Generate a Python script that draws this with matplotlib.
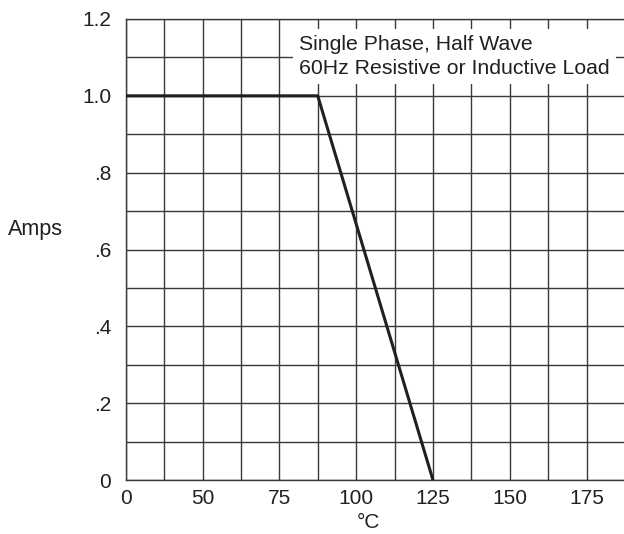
import numpy as np
import matplotlib.pyplot as plt

plt.rcParams['font.family'] = ['Liberation Sans', 'DejaVu Sans']

# derating curve
temp_c = [0, 87.5, 125]
amps = [1.0, 1.0, 0.0]

x_ticks = [0, 50, 75, 100, 125, 150, 175]
x_minor = [25, 62.5, 87.5, 112.5, 137.5, 162.5, 187.5]
y_ticks = [0, 0.2, 0.4, 0.6, 0.8, 1.0, 1.2]
y_labels = ['0', '.2', '.4', '.6', '.8', '1.0', '1.2']
note = 'Single Phase, Half Wave\n60Hz Resistive or Inductive Load'


# x axis is compressed between 0 and 50 (0 sits where 25 would be)
def fwd(t):
    t = np.asarray(t, dtype=float)
    return np.where(t < 50, 25 + t / 2, t)


def inv(p):
    p = np.asarray(p, dtype=float)
    return np.where(p < 50, (p - 25) * 2, p)


fig = plt.figure(figsize=(6.24, 5.34), dpi=100)
W, H = 624, 534
ax = fig.add_axes([125.7 / W, (H - 480) / H, (625 - 125.7) / W, 461 / H])
ax.set_xscale('function', functions=(fwd, inv))
ax.set_xlim(0, 187.5)
ax.set_ylim(0, 1.2)

gc = '#3a3a3a'
tc = '#231f20'
ax.set_xticks(x_ticks)
ax.set_xticklabels([str(v) for v in x_ticks])
ax.set_xticks(x_minor, minor=True)
ax.set_yticks(y_ticks)
ax.set_yticklabels(y_labels)
ax.set_yticks(np.arange(0.1, 1.2, 0.2), minor=True)
ax.grid(which='both', color=gc, linewidth=1.0)
ax.tick_params(which='both', length=0, labelsize=15, colors=tc)
ax.tick_params(axis='x', pad=6.5)
ax.tick_params(axis='y', pad=10.5)
ax.set_axisbelow(True)

ax.spines['right'].set_visible(False)
for s in ['left', 'bottom', 'top']:
    ax.spines[s].set_color(gc)
    ax.spines[s].set_linewidth(1.0)

ax.plot(temp_c, amps, color=tc, linewidth=2.2, solid_capstyle='butt', zorder=3)

fig.text(299 / W, 1 - 35 / H, note, fontsize=15.3, color=tc, va='top', ha='left',
         linespacing=1.3, zorder=5,
         bbox=dict(boxstyle='square,pad=0.3', facecolor='white', edgecolor='none'))

fig.text(8 / W, 1 - 235 / H, 'Amps', fontsize=15.5, color=tc, va='baseline', ha='left')
fig.text(368 / W, 1 - 523 / H, '°C', fontsize=15, color=tc, va='center', ha='center')

fig.savefig('out.png', dpi=100)
